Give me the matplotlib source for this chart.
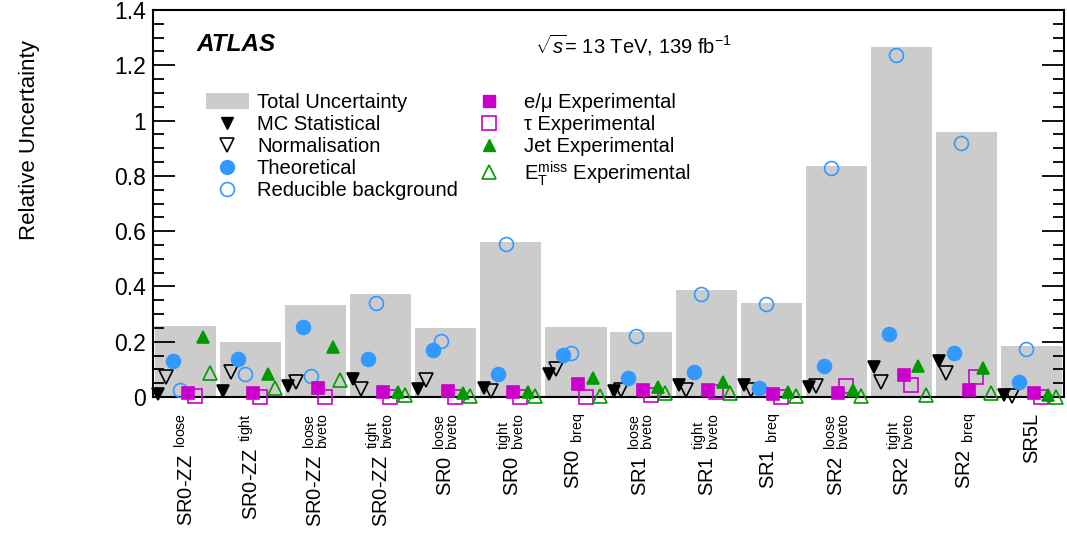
import matplotlib
matplotlib.use('Agg')
import matplotlib.pyplot as plt
import numpy as np
from matplotlib.lines import Line2D
from matplotlib.patches import Patch
from matplotlib.ticker import MultipleLocator, FuncFormatter

# signal regions
regions = [r'SR0-ZZ$\;\,{}^{\mathrm{loose}}$', r'SR0-ZZ$\;\,{}^{\mathrm{tight}}$',
           r'SR0-ZZ$\;\,{}^{\mathrm{loose}}_{\mathrm{bveto}}$', r'SR0-ZZ$\;\,{}^{\mathrm{tight}}_{\mathrm{bveto}}$',
           r'SR0$\;\,{}^{\mathrm{loose}}_{\mathrm{bveto}}$', r'SR0$\;\,{}^{\mathrm{tight}}_{\mathrm{bveto}}$',
           r'SR0$\;\,{}_{\mathrm{breq}}$',
           r'SR1$\;\,{}^{\mathrm{loose}}_{\mathrm{bveto}}$', r'SR1$\;\,{}^{\mathrm{tight}}_{\mathrm{bveto}}$',
           r'SR1$\;\,{}_{\mathrm{breq}}$',
           r'SR2$\;\,{}^{\mathrm{loose}}_{\mathrm{bveto}}$', r'SR2$\;\,{}^{\mathrm{tight}}_{\mathrm{bveto}}$',
           r'SR2$\;\,{}_{\mathrm{breq}}$', 'SR5L']

total = [0.258, 0.199, 0.333, 0.373, 0.251, 0.561, 0.253, 0.234, 0.387, 0.341, 0.836, 1.266, 0.957, 0.184]
mc_stat = [0.011, 0.023, 0.040, 0.066, 0.029, 0.031, 0.085, 0.022, 0.042, 0.042, 0.037, 0.107, 0.131, 0.007]
normalisation = [0.071, 0.092, 0.055, 0.030, 0.062, 0.021, 0.102, 0.025, 0.025, 0.025, 0.040, 0.053, 0.086, 0.003]
theoretical = [0.130, 0.139, 0.254, 0.137, 0.170, 0.084, 0.153, 0.069, 0.092, 0.034, 0.112, 0.227, 0.160, 0.053]
reducible = [0.024, 0.082, 0.075, 0.339, 0.201, 0.553, 0.158, 0.222, 0.373, 0.336, 0.828, 1.237, 0.919, 0.172]
e_mu = [0.013, 0.013, 0.033, 0.018, 0.021, 0.018, 0.046, 0.025, 0.025, 0.011, 0.013, 0.080, 0.025, 0.016]
tau = [0.002, 0.001, 0.001, 0.0, 0.0, 0.0, 0.001, 0.007, 0.019, 0.001, 0.040, 0.043, 0.071, 0.0]
jet = [0.217, 0.083, 0.182, 0.019, 0.015, 0.018, 0.068, 0.037, 0.053, 0.019, 0.025, 0.112, 0.104, 0.007]
met = [0.088, 0.031, 0.063, 0.009, 0.002, 0.002, 0.005, 0.013, 0.016, 0.002, 0.003, 0.007, 0.013, 0.001]

grey = '#cccccc'
blue = '#3399ff'
magenta = '#cc00cc'
green = '#009900'

plt.rcParams['font.family'] = ['Liberation Sans', 'DejaVu Sans']
plt.rcParams['mathtext.fontset'] = 'custom'
plt.rcParams['mathtext.rm'] = 'Liberation Sans'
plt.rcParams['mathtext.it'] = 'Liberation Sans:italic'
plt.rcParams['mathtext.bf'] = 'Liberation Sans:bold'

fig = plt.figure(figsize=(10.67, 5.33), dpi=100)
ax = fig.add_axes([153 / 1067, 1 - 397 / 533, 911 / 1067, 387 / 533])

n = len(regions)
xs = np.arange(n)
ax.bar(xs + 0.5, total, 0.94, color=grey, zorder=1)

# marker slots inside each region
step = 0.1135
start = 0.08
series = [
    (mc_stat, 'v', 'black', True, 9),
    (normalisation, 'v', 'black', False, 9.5),
    (theoretical, 'o', blue, True, 10),
    (reducible, 'o', blue, False, 10),
    (tau, 's', magenta, False, 10),
    (e_mu, 's', magenta, True, 9),
    (jet, '^', green, True, 9),
    (met, '^', green, False, 9.5),
]
slot = {0: 0, 1: 1, 2: 2, 3: 3, 4: 5, 5: 4, 6: 6, 7: 7}
for k, (vals, m, c, filled, ms) in enumerate(series):
    ax.plot(xs + start + slot[k] * step, vals, ls='none', marker=m, ms=ms,
            mfc=c if filled else 'none', mec=c, mew=1.2, clip_on=False, zorder=3)

ax.set_xlim(0, n)
ax.set_ylim(0, 1.4)
ax.set_xticks(xs + 0.5)
ax.set_xticklabels(regions, rotation=90, ha='center', va='top', fontsize=14.5)
ax.tick_params(axis='x', length=0, pad=11.5)
ax.yaxis.set_major_locator(MultipleLocator(0.2))
ax.yaxis.set_minor_locator(MultipleLocator(0.05))
ax.yaxis.set_major_formatter(FuncFormatter(lambda v, p: '%g' % round(v, 2)))
ax.tick_params(axis='y', which='major', direction='in', length=16, width=1.3,
               labelsize=16.5, right=True, pad=5)
ax.tick_params(axis='y', which='minor', direction='in', length=8, width=1.3, right=True)
for s in ax.spines.values():
    s.set_linewidth(1.5)

fig.text(30 / 1067, 1 - 140 / 533, 'Relative Uncertainty', rotation=90,
         ha='center', va='center', fontsize=16)
fig.text(197 / 1067, 1 - 45 / 533, 'ATLAS', fontsize=17.5, weight='bold',
         style='italic', va='center')
fig.text(535 / 1067, 1 - 45 / 533, r'$\sqrt{s}$= 13 TeV, 139 fb$^{-1}$',
         fontsize=14.5, va='center')

left_h = [Patch(facecolor=grey, edgecolor='none'),
          Line2D([], [], ls='none', marker='v', ms=9, mfc='black', mec='black'),
          Line2D([], [], ls='none', marker='v', ms=9.5, mfc='none', mec='black', mew=1.2),
          Line2D([], [], ls='none', marker='o', ms=10, mfc=blue, mec=blue),
          Line2D([], [], ls='none', marker='o', ms=10, mfc='none', mec=blue, mew=1.2)]
left_l = ['Total Uncertainty', 'MC Statistical', 'Normalisation', 'Theoretical',
          'Reducible background']
right_h = [Line2D([], [], ls='none', marker='s', ms=9, mfc=magenta, mec=magenta),
           Line2D([], [], ls='none', marker='s', ms=10, mfc='none', mec=magenta, mew=1.2),
           Line2D([], [], ls='none', marker='^', ms=9, mfc=green, mec=green),
           Line2D([], [], ls='none', marker='^', ms=9.5, mfc='none', mec=green, mew=1.2)]
right_l = [r'e/μ Experimental', r'τ Experimental', 'Jet Experimental',
           r'E$_{\mathrm{T}}^{\mathrm{miss}}$ Experimental']

fig.legend(left_h, left_l, loc='upper left',
           bbox_to_anchor=(206 / 1067, 1 - 93 / 533), frameon=False,
           fontsize=14.5, borderpad=0, labelspacing=0.15, handlelength=2.13,
           handleheight=0.85, handletextpad=0.4, borderaxespad=0)
fig.legend(right_h, right_l, loc='upper left',
           bbox_to_anchor=(468 / 1067, 1 - 93 / 533), frameon=False,
           fontsize=14.5, borderpad=0, labelspacing=0.15, handlelength=2.13,
           handleheight=0.85, handletextpad=0.67, borderaxespad=0)

fig.savefig('out.png', dpi=100)
